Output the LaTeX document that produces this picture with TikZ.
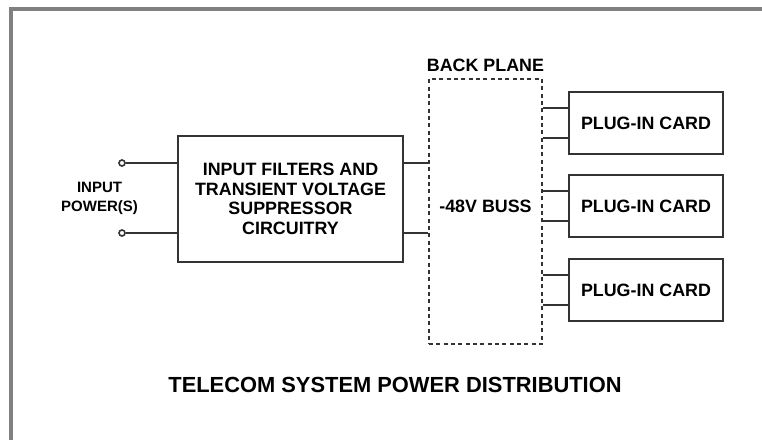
\documentclass[tikz,border=0pt]{standalone}
\usepackage{fontspec}
\setsansfont{Liberation Sans}
\usetikzlibrary{positioning}
\begin{document}
\begin{tikzpicture}[x=0.75pt,y=-0.75pt,font=\sffamily\bfseries\fontsize{13.4}{14.6}\selectfont,
 block/.style={draw=black!80,line width=1.5pt,minimum width=168.75pt,minimum height=94.5pt,align=center,inner sep=0pt},
 card/.style={draw=black!80,line width=1.5pt,minimum width=115.5pt,minimum height=46.5pt,inner sep=0pt},
 plane/.style={draw=black!80,line width=1pt,dash pattern=on 3pt off 2.5pt,minimum width=84.75pt,minimum height=198.75pt,inner sep=0pt},
 term/.style={circle,draw=black!80,line width=1.2pt,fill=white,inner sep=0pt,minimum size=4.5pt},
 wire/.style={draw=black!80,line width=1.5pt}]
\useasboundingbox (0,0) rectangle (762,440);
\draw[gray,line width=2.8pt] (11,440) -- (11,9) -- (762,9);
\node[block] (filt) at (290.5,199) {INPUT FILTERS AND\\TRANSIENT VOLTAGE\\SUPPRESSOR\\CIRCUITRY};
\node[plane] (bus) at (485.5,211.5) {};
\node (buslbl) at (485.5,206) {-48V BUSS};
\node (plane) at (485.5,65) {BACK PLANE};
\node[term] (tA) at (122,163) {};
\node[term] (tB) at (122,233) {};
\node[font=\sffamily\bfseries\fontsize{11.25}{14.25}\selectfont,align=center] (inlbl) at (99.5,198) {INPUT\\POWER(S)};
\foreach \t in {tA,tB}{\draw[wire] (\t.east) -- (\t -| filt.west); \draw[wire] (\t -| filt.east) -- (\t -| bus.west);}
\foreach \i/\y in {1/123,2/206,3/290}{
 \node[card] (c\i) at (646,\y) {PLUG-IN CARD};
 \coordinate (c\i t) at ([yshift=10.9pt]c\i.west);
 \coordinate (c\i b) at ([yshift=-10.9pt]c\i.west);
 \foreach \s in {t,b}{\draw[wire] (c\i\s) -- (c\i\s -| bus.east);}
}
\node[font=\sffamily\bfseries\fontsize{16.4}{19}\selectfont] (title) at (395,385) {TELECOM SYSTEM POWER DISTRIBUTION};
\end{tikzpicture}
\end{document}
